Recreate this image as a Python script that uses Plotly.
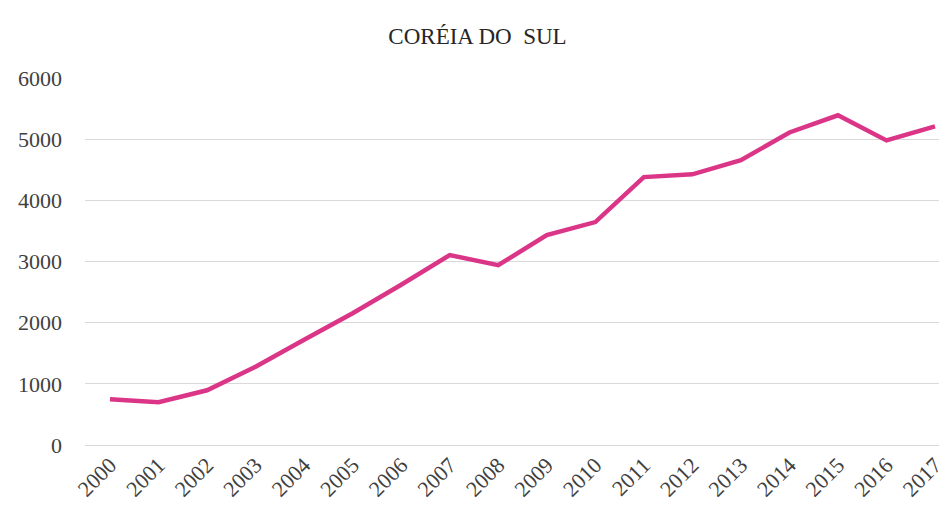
import plotly.graph_objects as go

years = list(range(2000, 2018))
values = [750, 700, 895, 1280, 1720, 2155, 2620, 3105, 2940, 3430, 3645,
          4380, 4425, 4655, 5110, 5390, 4980, 5210]
y_ticks = [0, 1000, 2000, 3000, 4000, 5000, 6000]

# page body has an 8px margin, so the figure is sized to fit the 947x509 window
fig = go.Figure()
fig.add_trace(go.Scatter(
    x=years, y=values, mode='lines',
    line=dict(color='#DB3587', width=4.5),
    hoverinfo='x+y'
))

fig.update_layout(
    width=939, height=501,
    margin=dict(l=77, r=0, t=70, b=64, autoexpand=False),
    plot_bgcolor='white', paper_bgcolor='white',
    font=dict(family='Liberation Serif, Times New Roman, serif', color='#404040', size=22),
    title=dict(text='CORÉIA DO  SUL', x=0.5, xanchor='center', y=0.945, yanchor='middle',
               font=dict(size=23, color='#262626')),
    showlegend=False,
    xaxis=dict(
        range=[1999.485, 2017.247], tickvals=years, ticktext=[str(y) for y in years],
        tickangle=-45, showgrid=False, zeroline=False, showline=False,
        ticks='', ticklabelstandoff=2, automargin=False,
    ),
    yaxis=dict(
        range=[0, 6000], tickvals=y_ticks, showgrid=True, gridcolor='#d9d9d9',
        gridwidth=1, zeroline=True, zerolinecolor='#d9d9d9', zerolinewidth=1,
        showline=False, ticks='', ticklabelstandoff=22, automargin=False,
    ),
)

fig.write_html("out.html")
